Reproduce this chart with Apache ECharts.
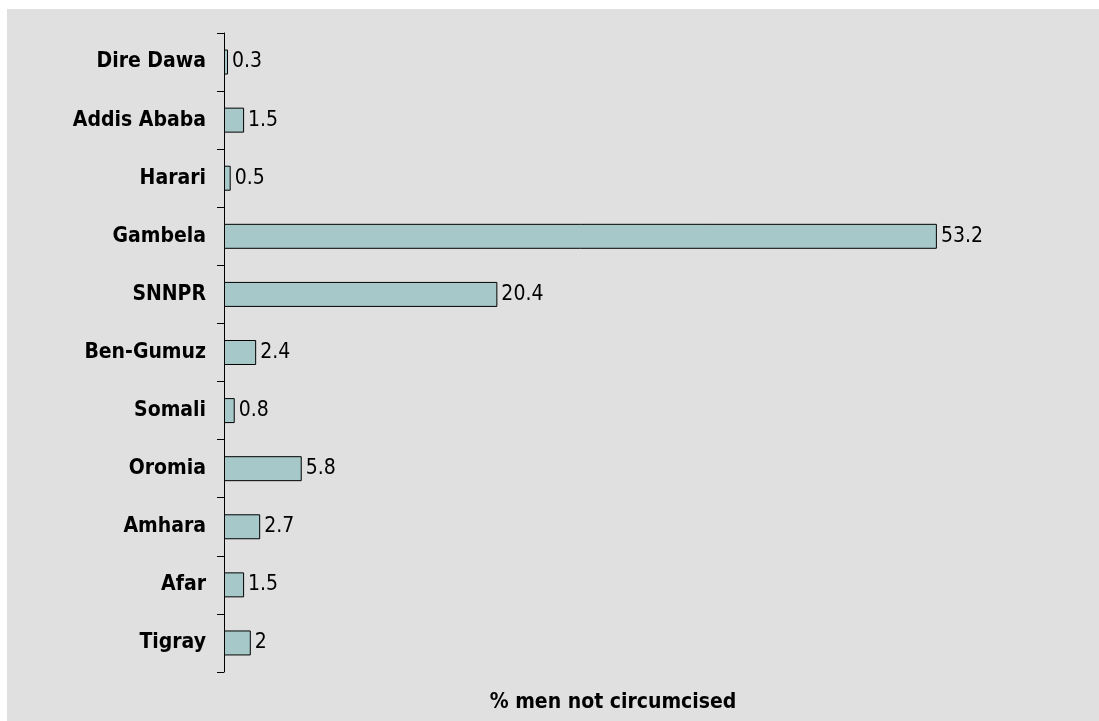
<!DOCTYPE html>
<html><head><meta charset="utf-8">
<script src="https://cdn.jsdelivr.net/npm/echarts@6/dist/echarts.min.js"></script>
<style>html,body{margin:0;padding:0;background:#fff;}#c{width:1099px;height:721px;}</style>
</head><body><div id="c"></div>
<script>
const categories = ["Tigray","Afar","Amhara","Oromia","Somali","Ben-Gumuz","SNNPR","Gambela","Harari","Addis Ababa","Dire Dawa"];
const values = [2, 1.5, 2.7, 5.8, 0.8, 2.4, 20.4, 53.2, 0.5, 1.5, 0.3];
const axisTitle = "% men not circumcised";
const FONT = '"DejaVu Sans Condensed", "Liberation Sans Narrow", sans-serif';

const chart = echarts.init(document.getElementById('c'));
chart.setOption({
  animation: false,
  backgroundColor: '#ffffff',
  graphic: [{type:'rect', z:-10, shape:{x:7,y:9,width:1092,height:712}, style:{fill:'#e0e0e0'}}],
  title: {text: axisTitle, left: 608, top: 687, textAlign: 'center',
    textStyle:{fontFamily: FONT, fontWeight:'bold', fontSize: 21, color:'#000'}},
  grid: {left: 224, top: 33, bottom: 49, width: 804},
  xAxis: {type:'value', min:0, max:60, show:false},
  yAxis: {type:'category', data: categories,
    axisLine:{show:true, lineStyle:{color:'#000', width:1}},
    axisTick:{show:true, length:7, lineStyle:{color:'#000'}},
    axisLabel:{fontFamily: FONT, fontWeight:'bold', fontSize: 21, color:'#000', margin: 18}},
  series: [{type:'bar', data: values, barWidth: '43%',
    itemStyle:{color:'#a6c8c8', borderColor:'#000', borderWidth:1},
    label:{show:true, position:'right', distance:4, fontFamily: FONT, fontSize: 21, color:'#000'}}]
});
</script></body></html>
